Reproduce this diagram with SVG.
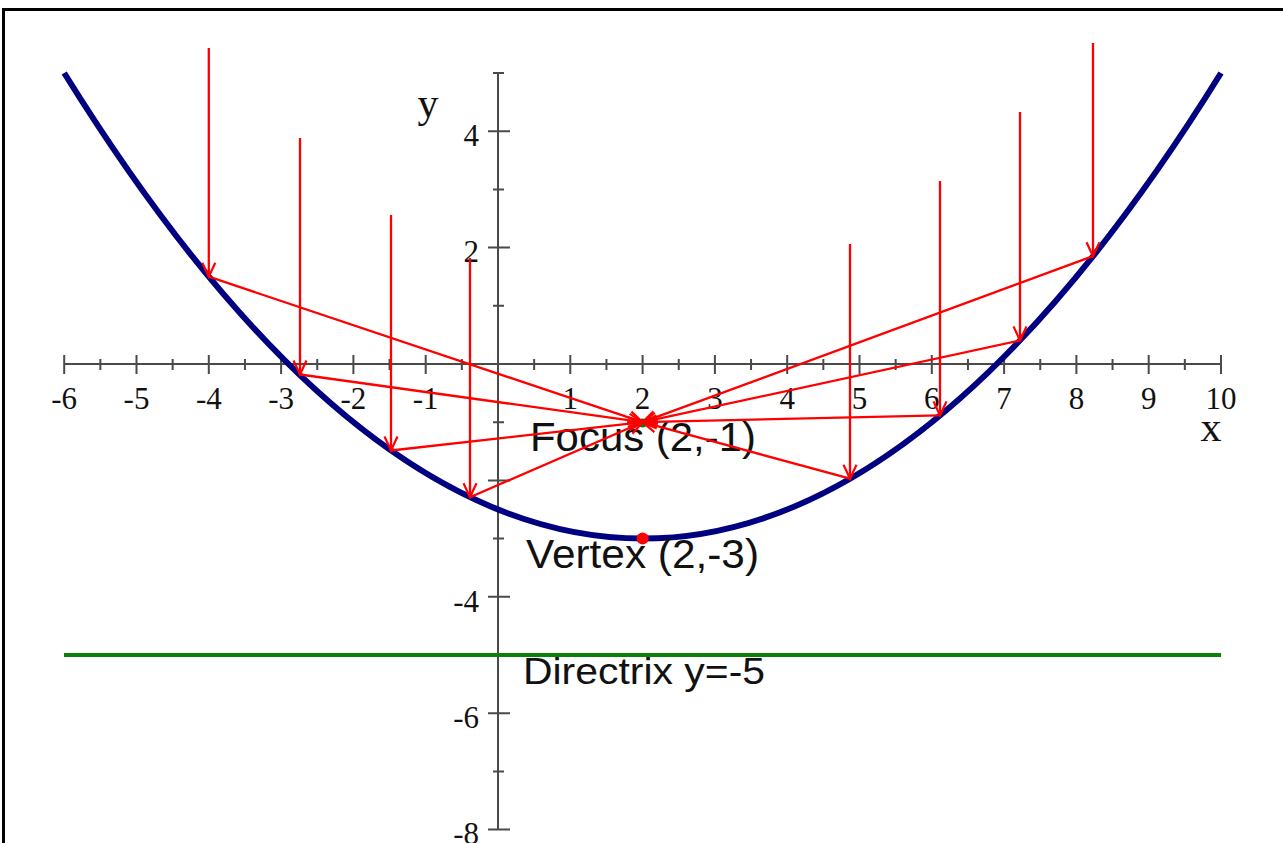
<svg xmlns="http://www.w3.org/2000/svg" width="1283" height="843" viewBox="0 0 1283 843">
<style>
.ax{stroke:#4a4a4a;stroke-width:2;fill:none}
.num{font-family:"Liberation Serif",serif;font-size:31px;fill:#111}
.lbl{font-family:"Liberation Sans",Arial,sans-serif;fill:#111}
.ray{stroke:#ff0000;stroke-width:2.3;fill:none;marker-end:url(#arr)}
</style>
<defs>
<marker id="arr" viewBox="-15 -8 17 16" refX="0" refY="0" markerWidth="17" markerHeight="16" markerUnits="userSpaceOnUse" orient="auto">
<path d="M-14,-6.5 L0,0 L-14,6.5" stroke="#ff0000" stroke-width="2.2" fill="none"/>
</marker>
</defs>
<rect x="0" y="0" width="1283" height="843" fill="#ffffff"/>
<path d="M3.5,843 L3.5,9.5 L1283,9.5" stroke="#000" stroke-width="3" fill="none"/>

<g id="axes">
<path class="ax" d="M64,364 H1221 M498,73 V830"/>
<path class="ax" d="M64.2,355V374 M136.5,355V374 M208.8,355V374 M281.1,355V374 M353.4,355V374 M425.7,355V374 M570.3,355V374 M642.6,355V374 M714.9,355V374 M787.2,355V374 M859.5,355V374 M931.8,355V374 M1004.1,355V374 M1076.4,355V374 M1148.7,355V374 M1221,355V374"/>
<path class="ax" d="M100.35,359V370 M172.65,359V370 M244.95,359V370 M317.25,359V370 M389.55,359V370 M461.85,359V370 M534.15,359V370 M606.45,359V370 M678.75,359V370 M751.05,359V370 M823.35,359V370 M895.65,359V370 M967.95,359V370 M1040.25,359V370 M1112.55,359V370 M1184.85,359V370"/>
<path class="ax" d="M488,131.2H510 M488,247.6H510 M488,480.4H510 M488,596.8H510 M488,713.2H510 M488,829.6H510"/>
<path class="ax" d="M493,73H504 M493,189.4H504 M493,305.8H504 M493,422.2H504 M493,538.6H504 M493,655H504 M493,771.4H504"/>
<g class="num" text-anchor="middle">
<text x="64.2" y="409">-6</text><text x="136.5" y="409">-5</text><text x="208.8" y="409">-4</text><text x="281.1" y="409">-3</text><text x="353.4" y="409">-2</text><text x="425.7" y="409">-1</text><text x="570.3" y="409">1</text><text x="642.6" y="409">2</text><text x="714.9" y="409">3</text><text x="787.2" y="409">4</text><text x="859.5" y="409">5</text><text x="931.8" y="409">6</text><text x="1004.1" y="409">7</text><text x="1076.4" y="409">8</text><text x="1148.7" y="409">9</text><text x="1221" y="409">10</text>
</g>
<g class="num" text-anchor="end">
<text x="479" y="146">4</text><text x="479" y="262">2</text><text x="479" y="612">-4</text><text x="479" y="728">-6</text><text x="479" y="844">-8</text>
</g>
<text class="num" x="1211" y="441" text-anchor="middle" style="font-size:42px">x</text>
<text class="num" x="428" y="117" text-anchor="middle" style="font-size:42px">y</text>
</g>

<g id="directrix">
<line x1="64" y1="655" x2="1221" y2="655" stroke="#0a800a" stroke-width="4"/>
<text class="lbl" x="523" y="684" font-size="37" textLength="242" lengthAdjust="spacingAndGlyphs">Directrix y=-5</text>
</g>

<g id="parabola">
<path d="M64.2,73 Q642.6,1004.2 1221,73" stroke="#000080" stroke-width="6" fill="none"/>
</g>

<g id="vertex">
<circle cx="642.6" cy="538.6" r="6" fill="#ff0000"/>
<text class="lbl" x="526" y="568" font-size="40" textLength="233" lengthAdjust="spacingAndGlyphs">Vertex (2,-3)</text>
</g>

<g id="focus">
<circle cx="642.6" cy="423" r="4.5" fill="#0a800a"/>
<text class="lbl" x="530" y="451" font-size="40" textLength="226" lengthAdjust="spacingAndGlyphs">Focus (2,-1)</text>
</g>

<g id="connectors">
<path class="ray" d="M208.8,48 V276.7"/>
<path class="ray" d="M208.8,276.7 L642.6,422.2"/>
<path class="ray" d="M300,138 V374.5"/>
<path class="ray" d="M300,374.5 L642.6,422.2"/>
<path class="ray" d="M391,215 V450.5"/>
<path class="ray" d="M391,450.5 L642.6,422.2"/>
<path class="ray" d="M470,258 V497.2"/>
<path class="ray" d="M470,497.2 L642.6,422.2"/>
<path class="ray" d="M850,244 V478.7"/>
<path class="ray" d="M850,478.7 L642.6,422.2"/>
<path class="ray" d="M940,181 V415.4"/>
<path class="ray" d="M940,415.4 L642.6,422.2"/>
<path class="ray" d="M1020,112 V340.4"/>
<path class="ray" d="M1020,340.4 L642.6,422.2"/>
<path class="ray" d="M1093,43 V256.2"/>
<path class="ray" d="M1093,256.2 L642.6,422.2"/>
</g>
</svg>
